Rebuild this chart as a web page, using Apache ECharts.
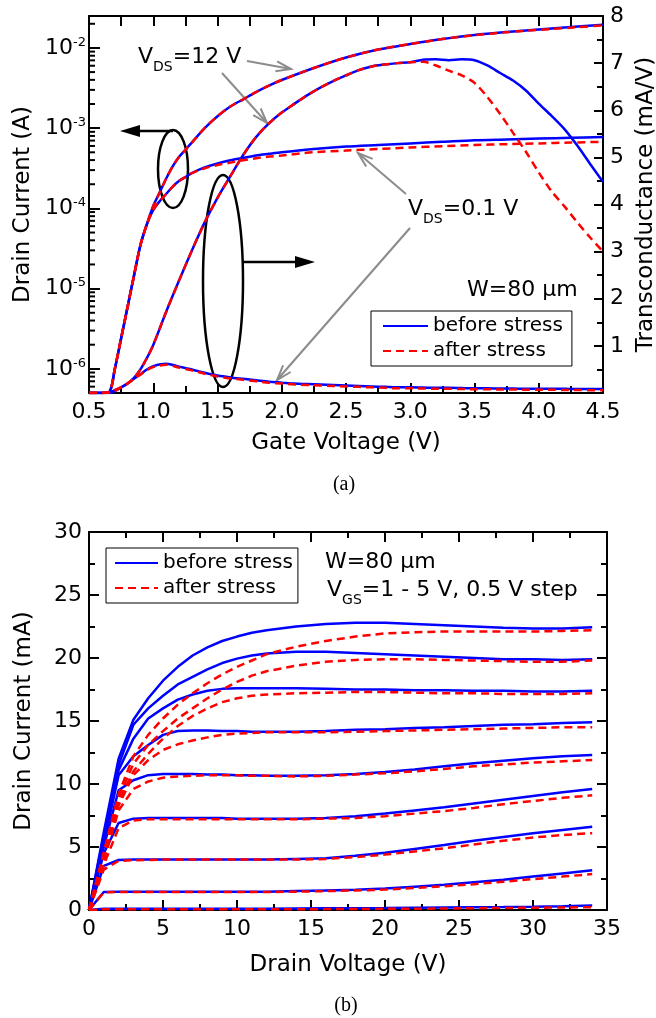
<!DOCTYPE html>
<html>
<head>
<meta charset="utf-8">
<title>Transfer and output characteristics before / after stress</title>
<script src="https://cdn.jsdelivr.net/npm/echarts@6/dist/echarts.min.js"></script>
<style>
  html, body { margin: 0; padding: 0; background: #fff; }
  #chart { width: 656px; height: 1018px; }
</style>
</head>
<body>
<div id="chart"></div>
<script>
// ---- (a) transfer curves ----
// gate voltage grid for drain current (V)
const vgId = [0.5, 0.6, 0.66, 0.7, 0.75, 0.8, 0.85, 0.9, 0.95, 1.0, 1.05, 1.1, 1.15, 1.2, 1.25, 1.3, 1.4, 1.5, 1.6, 1.7, 1.8, 1.9, 2.0, 2.25, 2.5, 2.75, 3.0, 3.25, 3.5, 3.75, 4.0, 4.25, 4.5]
// drain current (A), VDS = 12 V
const idHiBefore = [5e-7, 5e-7, 5.2e-7, 9.8e-7, 2.4e-6, 5.89e-6, 1.45e-5, 3.47e-5, 6.31e-5, 1.07e-4, 1.58e-4, 2.34e-4, 3.31e-4, 4.37e-4, 5.37e-4, 6.61e-4, 1.0e-3, 1.41e-3, 1.86e-3, 2.29e-3, 2.82e-3, 3.39e-3, 3.98e-3, 5.62e-3, 7.59e-3, 9.55e-3, 1.12e-2, 1.29e-2, 1.45e-2, 1.58e-2, 1.70e-2, 1.82e-2, 1.95e-2]
const idHiAfter = [5e-7, 5e-7, 5.2e-7, 9.8e-7, 2.4e-6, 5.89e-6, 1.45e-5, 3.47e-5, 6.31e-5, 1.07e-4, 1.58e-4, 2.34e-4, 3.31e-4, 4.37e-4, 5.37e-4, 6.61e-4, 1.0e-3, 1.41e-3, 1.86e-3, 2.29e-3, 2.82e-3, 3.39e-3, 3.98e-3, 5.62e-3, 7.59e-3, 9.55e-3, 1.12e-2, 1.29e-2, 1.44e-2, 1.57e-2, 1.68e-2, 1.79e-2, 1.91e-2]
// drain current (A), VDS = 0.1 V
const idLoBefore = [5e-7, 5e-7, 5.2e-7, 9.8e-7, 2.4e-6, 5.89e-6, 1.45e-5, 3.47e-5, 6.31e-5, 9.55e-5, 1.23e-4, 1.51e-4, 1.86e-4, 2.19e-4, 2.45e-4, 2.75e-4, 3.24e-4, 3.63e-4, 3.98e-4, 4.27e-4, 4.57e-4, 4.79e-4, 5.01e-4, 5.50e-4, 5.89e-4, 6.17e-4, 6.46e-4, 6.76e-4, 7.08e-4, 7.24e-4, 7.41e-4, 7.59e-4, 7.76e-4]
const idLoAfter = [5e-7, 5e-7, 5.2e-7, 9.8e-7, 2.4e-6, 5.89e-6, 1.45e-5, 3.47e-5, 6.31e-5, 9.55e-5, 1.23e-4, 1.51e-4, 1.86e-4, 2.19e-4, 2.45e-4, 2.75e-4, 3.16e-4, 3.47e-4, 3.72e-4, 3.98e-4, 4.22e-4, 4.42e-4, 4.57e-4, 5.01e-4, 5.25e-4, 5.50e-4, 5.75e-4, 5.96e-4, 6.17e-4, 6.31e-4, 6.46e-4, 6.61e-4, 6.76e-4]

// gate voltage grid for transconductance (V)
const vgGm = [0.5, 0.6, 0.66, 0.7, 0.75, 0.8, 0.85, 0.9, 0.95, 1.0, 1.1, 1.2, 1.3, 1.4, 1.5, 1.6, 1.7, 1.8, 1.9, 2.0, 2.1, 2.2, 2.3, 2.4, 2.5, 2.6, 2.7, 2.8, 2.9, 3.0, 3.1, 3.2, 3.3, 3.4, 3.5, 3.6, 3.7, 3.8, 3.9, 4.0, 4.1, 4.2, 4.3, 4.4, 4.5]
// transconductance (mA/V), VDS = 12 V
const gmHiBefore = [0, 0, 0, 0.04, 0.12, 0.2, 0.32, 0.5, 0.74, 1.02, 1.72, 2.38, 3.02, 3.62, 4.14, 4.6, 5.05, 5.43, 5.72, 5.95, 6.14, 6.32, 6.48, 6.62, 6.74, 6.85, 6.93, 6.97, 7.0, 7.02, 7.07, 7.08, 7.06, 7.08, 7.06, 6.95, 6.79, 6.63, 6.42, 6.14, 5.88, 5.6, 5.25, 4.86, 4.48]
const gmHiAfter = [0, 0, 0, 0.04, 0.12, 0.2, 0.32, 0.5, 0.74, 1.02, 1.72, 2.38, 3.02, 3.62, 4.14, 4.6, 5.05, 5.43, 5.72, 5.95, 6.14, 6.32, 6.48, 6.62, 6.74, 6.85, 6.93, 6.97, 7.0, 7.02, 7.03, 6.95, 6.84, 6.74, 6.58, 6.28, 5.92, 5.52, 5.12, 4.68, 4.28, 3.96, 3.62, 3.3, 3.0]
// transconductance (mA/V), VDS = 0.1 V
const gmLoBefore = [0, 0, 0.02, 0.06, 0.12, 0.2, 0.3, 0.4, 0.5, 0.57, 0.62, 0.56, 0.5, 0.43, 0.37, 0.33, 0.3, 0.27, 0.24, 0.22, 0.2, 0.19, 0.18, 0.17, 0.16, 0.15, 0.14, 0.13, 0.12, 0.12, 0.115, 0.11, 0.11, 0.105, 0.1, 0.1, 0.095, 0.095, 0.09, 0.09, 0.09, 0.09, 0.085, 0.085, 0.085]
const gmLoAfter = [0, 0, 0.02, 0.06, 0.12, 0.2, 0.3, 0.39, 0.49, 0.55, 0.6, 0.54, 0.48, 0.41, 0.35, 0.31, 0.28, 0.25, 0.22, 0.2, 0.18, 0.17, 0.16, 0.15, 0.14, 0.13, 0.12, 0.11, 0.1, 0.1, 0.095, 0.09, 0.09, 0.085, 0.08, 0.08, 0.075, 0.075, 0.07, 0.07, 0.07, 0.065, 0.065, 0.06, 0.06]

// ---- (b) output curves, VGS = 1 ... 5 V ----
const vd = [0, 1, 2, 3, 4, 5, 6, 7, 8, 9, 10, 11, 12, 14, 16, 18, 20, 22, 24, 26, 28, 30, 32, 34]
// drain current (mA) before stress
const ib10 = [0, 0.1, 0.1, 0.1, 0.1, 0.1, 0.1, 0.1, 0.1, 0.1, 0.1, 0.1, 0.1, 0.12, 0.13, 0.14, 0.15, 0.17, 0.19, 0.21, 0.23, 0.26, 0.3, 0.35]
const ib15 = [0, 1.43, 1.45, 1.45, 1.45, 1.45, 1.45, 1.45, 1.45, 1.45, 1.45, 1.45, 1.45, 1.5, 1.55, 1.6, 1.7, 1.85, 2.0, 2.2, 2.4, 2.65, 2.9, 3.15]
const ib20 = [0, 3.5, 3.97, 4.0, 4.0, 4.0, 4.0, 4.0, 4.0, 4.0, 4.0, 4.0, 4.0, 4.05, 4.1, 4.3, 4.55, 4.85, 5.15, 5.5, 5.8, 6.1, 6.35, 6.6]
const ib25 = [0, 4.5, 6.9, 7.25, 7.3, 7.3, 7.3, 7.3, 7.3, 7.3, 7.25, 7.25, 7.25, 7.25, 7.3, 7.45, 7.65, 7.9, 8.15, 8.45, 8.75, 9.05, 9.35, 9.6]
const ib30 = [0, 5.0, 9.5, 10.3, 10.7, 10.8, 10.8, 10.8, 10.75, 10.75, 10.7, 10.7, 10.65, 10.65, 10.7, 10.8, 10.95, 11.15, 11.4, 11.65, 11.85, 12.05, 12.2, 12.3]
const ib35 = [0, 5.3, 10.7, 12.2, 13.1, 13.9, 14.2, 14.25, 14.25, 14.2, 14.2, 14.15, 14.15, 14.15, 14.2, 14.3, 14.35, 14.45, 14.5, 14.6, 14.7, 14.75, 14.85, 14.9]
const ib40 = [0, 5.6, 11.1, 13.6, 15.2, 16.0, 16.7, 17.1, 17.4, 17.55, 17.6, 17.6, 17.6, 17.6, 17.55, 17.5, 17.5, 17.45, 17.45, 17.4, 17.4, 17.35, 17.35, 17.4]
const ib45 = [0, 5.9, 11.5, 14.7, 16.0, 17.0, 17.9, 18.5, 19.1, 19.6, 19.95, 20.2, 20.35, 20.5, 20.5, 20.4, 20.3, 20.2, 20.1, 20.0, 19.9, 19.9, 19.85, 19.9]
const ib50 = [0, 6.2, 12.0, 15.1, 16.8, 18.2, 19.3, 20.2, 20.85, 21.35, 21.7, 22.0, 22.2, 22.5, 22.7, 22.8, 22.8, 22.7, 22.6, 22.5, 22.4, 22.35, 22.35, 22.45]
// drain current (mA) after stress
const ia10 = [0, 0.05, 0.05, 0.05, 0.05, 0.05, 0.05, 0.05, 0.05, 0.05, 0.05, 0.05, 0.05, 0.06, 0.07, 0.08, 0.09, 0.1, 0.12, 0.14, 0.16, 0.18, 0.2, 0.22]
const ia15 = [0, 1.4, 1.43, 1.43, 1.43, 1.43, 1.43, 1.43, 1.43, 1.43, 1.43, 1.43, 1.43, 1.45, 1.5, 1.55, 1.62, 1.75, 1.88, 2.05, 2.25, 2.45, 2.65, 2.85]
const ia20 = [0, 3.2, 3.9, 3.95, 3.97, 4.0, 4.0, 4.0, 4.0, 4.0, 4.0, 4.0, 4.0, 4.0, 4.05, 4.2, 4.4, 4.65, 4.9, 5.2, 5.5, 5.75, 5.95, 6.1]
const ia25 = [0, 3.6, 6.5, 7.1, 7.2, 7.2, 7.2, 7.2, 7.2, 7.2, 7.2, 7.2, 7.2, 7.2, 7.25, 7.3, 7.45, 7.65, 7.85, 8.1, 8.4, 8.65, 8.9, 9.1]
const ia30 = [0, 3.9, 7.9, 9.6, 10.2, 10.5, 10.6, 10.65, 10.7, 10.7, 10.7, 10.65, 10.65, 10.6, 10.65, 10.75, 10.85, 11.0, 11.2, 11.4, 11.55, 11.7, 11.8, 11.9]
const ia35 = [0, 4.0, 8.3, 10.7, 11.9, 12.7, 13.15, 13.45, 13.7, 13.9, 14.0, 14.05, 14.1, 14.1, 14.1, 14.15, 14.2, 14.25, 14.3, 14.35, 14.4, 14.45, 14.5, 14.5]
const ia40 = [0, 4.2, 8.6, 11.0, 12.4, 13.6, 14.6, 15.4, 16.0, 16.5, 16.8, 17.0, 17.1, 17.2, 17.25, 17.3, 17.3, 17.25, 17.2, 17.2, 17.15, 17.15, 17.15, 17.2]
const ia45 = [0, 4.4, 8.9, 11.6, 13.1, 14.2, 15.2, 16.0, 16.8, 17.5, 18.1, 18.6, 18.95, 19.4, 19.7, 19.85, 19.9, 19.9, 19.85, 19.8, 19.75, 19.7, 19.7, 19.8]
const ia50 = [0, 4.6, 9.2, 12.2, 13.9, 15.2, 16.3, 17.2, 18.0, 18.7, 19.3, 19.8, 20.3, 20.9, 21.35, 21.7, 21.95, 22.05, 22.1, 22.1, 22.1, 22.1, 22.15, 22.2]

const legendNames = ['before stress', 'after stress']
const idMin = 5e-7
const idMax = 0.025

const FONT = 'DejaVu Sans'
const BLUE = '#0000ff'
const RED = '#ff0000'
const GREY = '#8c8c8c'

const zip = (xs, ys) => xs.map((x, i) => [x, ys[i]])

const solid = { color: BLUE, width: 2.5, type: 'solid' }
const dashed = { color: RED, width: 2.5, type: [8, 5] }

function line(name, xi, yi, data, style, smooth) {
  return {
    name: name,
    type: 'line',
    xAxisIndex: xi,
    yAxisIndex: yi,
    data: data,
    symbol: 'none',
    showSymbol: false,
    smooth: smooth,
    lineStyle: style,
    itemStyle: { color: style.color },
    emphasis: { disabled: true },
    silent: true,
    z: style === dashed ? 3 : 2,
  }
}

const series = []
// (a) drain currents on log axis, transconductance on right axis
series.push(line('before stress', 0, 0, zip(vgId, idHiBefore), solid, 0.3))
series.push(line('before stress', 0, 0, zip(vgId, idLoBefore), solid, 0.3))
series.push(line('before stress', 0, 1, zip(vgGm, gmHiBefore), solid, 0.3))
series.push(line('before stress', 0, 1, zip(vgGm, gmLoBefore), solid, 0.3))
series.push(line('after stress', 0, 0, zip(vgId, idHiAfter), dashed, 0.3))
series.push(line('after stress', 0, 0, zip(vgId, idLoAfter), dashed, 0.3))
series.push(line('after stress', 0, 1, zip(vgGm, gmHiAfter), dashed, 0.3))
series.push(line('after stress', 0, 1, zip(vgGm, gmLoAfter), dashed, 0.3))
// (b) output curves
const before = [ib10, ib15, ib20, ib25, ib30, ib35, ib40, ib45, ib50]
const after = [ia10, ia15, ia20, ia25, ia30, ia35, ia40, ia45, ia50]
before.forEach((c) => series.push(line('before stress', 2, 2, zip(vd, c), solid, false)))
after.forEach((c) => series.push(line('after stress', 2, 2, zip(vd, c), dashed, false)))

const black = { color: '#000', width: 2 }
const labelStyle = { fontFamily: FONT, fontSize: 22, color: '#000' }
const nameStyle = { fontFamily: FONT, fontSize: 23, color: '#000' }

function xAxis(grid, min, max, interval, pos, opts) {
  const a = {
    gridIndex: grid,
    type: 'value',
    min: min,
    max: max,
    interval: interval,
    position: pos,
    axisLine: { onZero: false, lineStyle: black },
    axisTick: { inside: true, length: 10, lineStyle: black },
    minorTick: { show: true, splitNumber: 2, length: opts.minorLen, lineStyle: black },
    splitLine: { show: false },
    axisLabel: { show: false },
  }
  return Object.assign(a, opts.extra || {})
}

function legendBox(left, top, iconWidth, padding) {
  return {
    left: left, top: top, orient: 'vertical', itemWidth: iconWidth, itemHeight: 14, itemGap: 5,
    padding: padding, borderColor: '#000', borderWidth: 1, selectedMode: false,
    itemStyle: { opacity: 0 },
    textStyle: { fontFamily: FONT, fontSize: 20, color: '#000' }, data: legendNames,
  }
}

const option = {
  animation: false,
  backgroundColor: '#fff',
  grid: [
    { left: 89, top: 16, width: 514, height: 377, outerBoundsMode: 'none' },
    { left: 89, top: 532, width: 518, height: 378, outerBoundsMode: 'none' },
  ],
  legend: [
    legendBox(371, 311, 45, [5, 9, 5, 11]),
    legendBox(106, 548, 43, [5, 5, 5, 8]),
  ],
  xAxis: [
    xAxis(0, 0.5, 4.5, 0.5, 'bottom', {
      minorLen: 7,
      extra: {
        axisLabel: Object.assign({ margin: 8, formatter: (v) => v.toFixed(1) }, labelStyle),
        name: 'Gate Voltage (V)', nameLocation: 'middle', nameGap: 39, nameTextStyle: nameStyle,
      },
    }),
    xAxis(0, 0.5, 4.5, 0.5, 'top', { minorLen: 10 }),
    xAxis(1, 0, 35, 5, 'bottom', {
      minorLen: 6,
      extra: {
        axisLabel: Object.assign({ margin: 8 }, labelStyle),
        name: 'Drain Voltage (V)', nameLocation: 'middle', nameGap: 44, nameTextStyle: nameStyle,
      },
    }),
    xAxis(1, 0, 35, 5, 'top', { minorLen: 6 }),
  ],
  yAxis: [
    {
      gridIndex: 0,
      type: 'log',
      logBase: 10,
      min: idMin,
      max: idMax,
      position: 'left',
      axisLine: { onZero: false, lineStyle: black },
      axisTick: { inside: true, length: 11, lineStyle: black },
      splitLine: { show: false },
      axisLabel: {
        margin: 3,
        showMinLabel: false,
        showMaxLabel: false,
        formatter: function (v) {
          const e = Math.log10(v)
          const r = Math.round(e)
          if (Math.abs(e - r) > 1e-6) return ''
          return '{b|10}{s|' + r + '}'
        },
        rich: {
          b: { fontFamily: FONT, fontSize: 22, lineHeight: 24, color: '#000' },
          s: { fontFamily: FONT, fontSize: 13, lineHeight: 13, verticalAlign: 'top', color: '#000' },
        },
      },
      name: 'Drain Current (A)', nameLocation: 'middle', nameGap: 52, nameTextStyle: nameStyle,
    },
    {
      gridIndex: 0,
      type: 'value',
      min: 0,
      max: 8,
      interval: 1,
      position: 'right',
      axisLine: { onZero: false, lineStyle: black },
      axisTick: { inside: true, length: 9, lineStyle: black },
      minorTick: { show: true, splitNumber: 2, length: 6, lineStyle: black },
      splitLine: { show: false },
      axisLabel: Object.assign({ margin: 7, formatter: (v) => (v === 0 ? '' : String(v)) }, labelStyle),
      name: 'Transconductance (mA/V)', nameLocation: 'middle', nameGap: 23, nameTextStyle: nameStyle,
    },
    {
      gridIndex: 1,
      type: 'value',
      min: 0,
      max: 30,
      interval: 5,
      position: 'left',
      axisLine: { onZero: false, lineStyle: black },
      axisTick: { inside: true, length: 10, lineStyle: black },
      minorTick: { show: true, splitNumber: 2, length: 6, lineStyle: black },
      splitLine: { show: false },
      axisLabel: Object.assign({ margin: 7 }, labelStyle),
      name: 'Drain Current (mA)', nameLocation: 'middle', nameGap: 53, nameTextStyle: nameStyle,
    },
    {
      gridIndex: 1,
      type: 'value',
      min: 0,
      max: 30,
      interval: 5,
      position: 'right',
      axisLine: { onZero: false, lineStyle: black },
      axisTick: { inside: true, length: 10, lineStyle: black },
      minorTick: { show: true, splitNumber: 2, length: 6, lineStyle: black },
      splitLine: { show: false },
      axisLabel: { show: false },
    },
  ],
  series: series,
}

const chart = echarts.init(document.getElementById('chart'))
chart.setOption(option)

// ---- annotations ----
function arrow(x1, y1, x2, y2, color, width, len, half, filled) {
  const ang = Math.atan2(y2 - y1, x2 - x1)
  const bx = x2 - len * Math.cos(ang)
  const by = y2 - len * Math.sin(ang)
  const nx = -Math.sin(ang) * half
  const ny = Math.cos(ang) * half
  const p1 = [bx + nx, by + ny]
  const p2 = [bx - nx, by - ny]
  const els = [{
    type: 'line',
    shape: { x1: x1, y1: y1, x2: filled ? bx : x2, y2: filled ? by : y2 },
    style: { stroke: color, lineWidth: width },
  }]
  if (filled) {
    els.push({ type: 'polygon', shape: { points: [[x2, y2], p1, p2] }, style: { fill: color } })
  } else {
    els.push({ type: 'polyline', shape: { points: [p1, [x2, y2], p2] }, style: { stroke: color, lineWidth: width, fill: 'none' } })
  }
  return els
}

const richText = {
  v: { fontFamily: FONT, fontSize: 22, lineHeight: 34, fill: '#000' },
  s: { fontFamily: FONT, fontSize: 14, lineHeight: 14, verticalAlign: 'bottom', fill: '#000' },
}

function note(x, y, text) {
  return {
    type: 'text',
    style: { x: x, y: y, text: text, rich: richText, align: 'left', verticalAlign: 'middle', fontFamily: FONT, fontSize: 22, fill: '#000' },
  }
}

function caption(x, y, text) {
  return {
    type: 'text',
    style: { x: x, y: y, text: text, align: 'center', verticalAlign: 'middle', fontFamily: 'Liberation Serif', fontSize: 20, fill: '#000' },
  }
}

const ring = (cx, cy, rx, ry) => ({
  type: 'ellipse',
  shape: { cx: cx, cy: cy, rx: rx, ry: ry },
  style: { fill: 'none', stroke: '#000', lineWidth: 2.5 },
})

let els = []
els.push(ring(173, 169, 15, 39))
els = els.concat(arrow(173, 131, 120, 131, '#000', 2.5, 20, 6, true))
els.push(ring(223, 281, 20, 106))
els = els.concat(arrow(243, 262, 315, 262, '#000', 2.5, 20, 6, true))

els = els.concat(arrow(247, 61, 291, 69, GREY, 2, 15, 5, false))
els = els.concat(arrow(222, 73, 267, 123, GREY, 2, 15, 5, false))
els = els.concat(arrow(406, 194, 358, 153, GREY, 2, 15, 5, false))
els = els.concat(arrow(410, 228, 277, 380, GREY, 2, 15, 5, false))

els.push(note(138, 57, '{v|V}{s|DS}{v|=12 V}'))
els.push(note(408, 209, '{v|V}{s|DS}{v|=0.1 V}'))
els.push(note(467, 290, '{v|W=80 μm}'))
els.push(note(325, 562, '{v|W=80 μm}'))
els.push(note(327, 590, '{v|V}{s|GS}{v|=1 - 5 V, 0.5 V step}'))

els.push(caption(344, 485, '(a)'))
els.push(caption(346, 1006, '(b)'))

// log minor ticks (2..9 x 10^n) on the drain current axis
const xLeft = chart.convertToPixel({ xAxisIndex: 0 }, 0.5)
for (let e = -7; e <= -2; e++) {
  for (let k = 2; k <= 9; k++) {
    const v = k * Math.pow(10, e)
    if (v <= idMin || v >= idMax) continue
    const y = chart.convertToPixel({ yAxisIndex: 0 }, v)
    els.push({ type: 'line', shape: { x1: xLeft, y1: y, x2: xLeft + 6, y2: y }, style: { stroke: '#000', lineWidth: 2 } })
  }
}

chart.setOption({ graphic: { elements: els } })
</script>
</body>
</html>
